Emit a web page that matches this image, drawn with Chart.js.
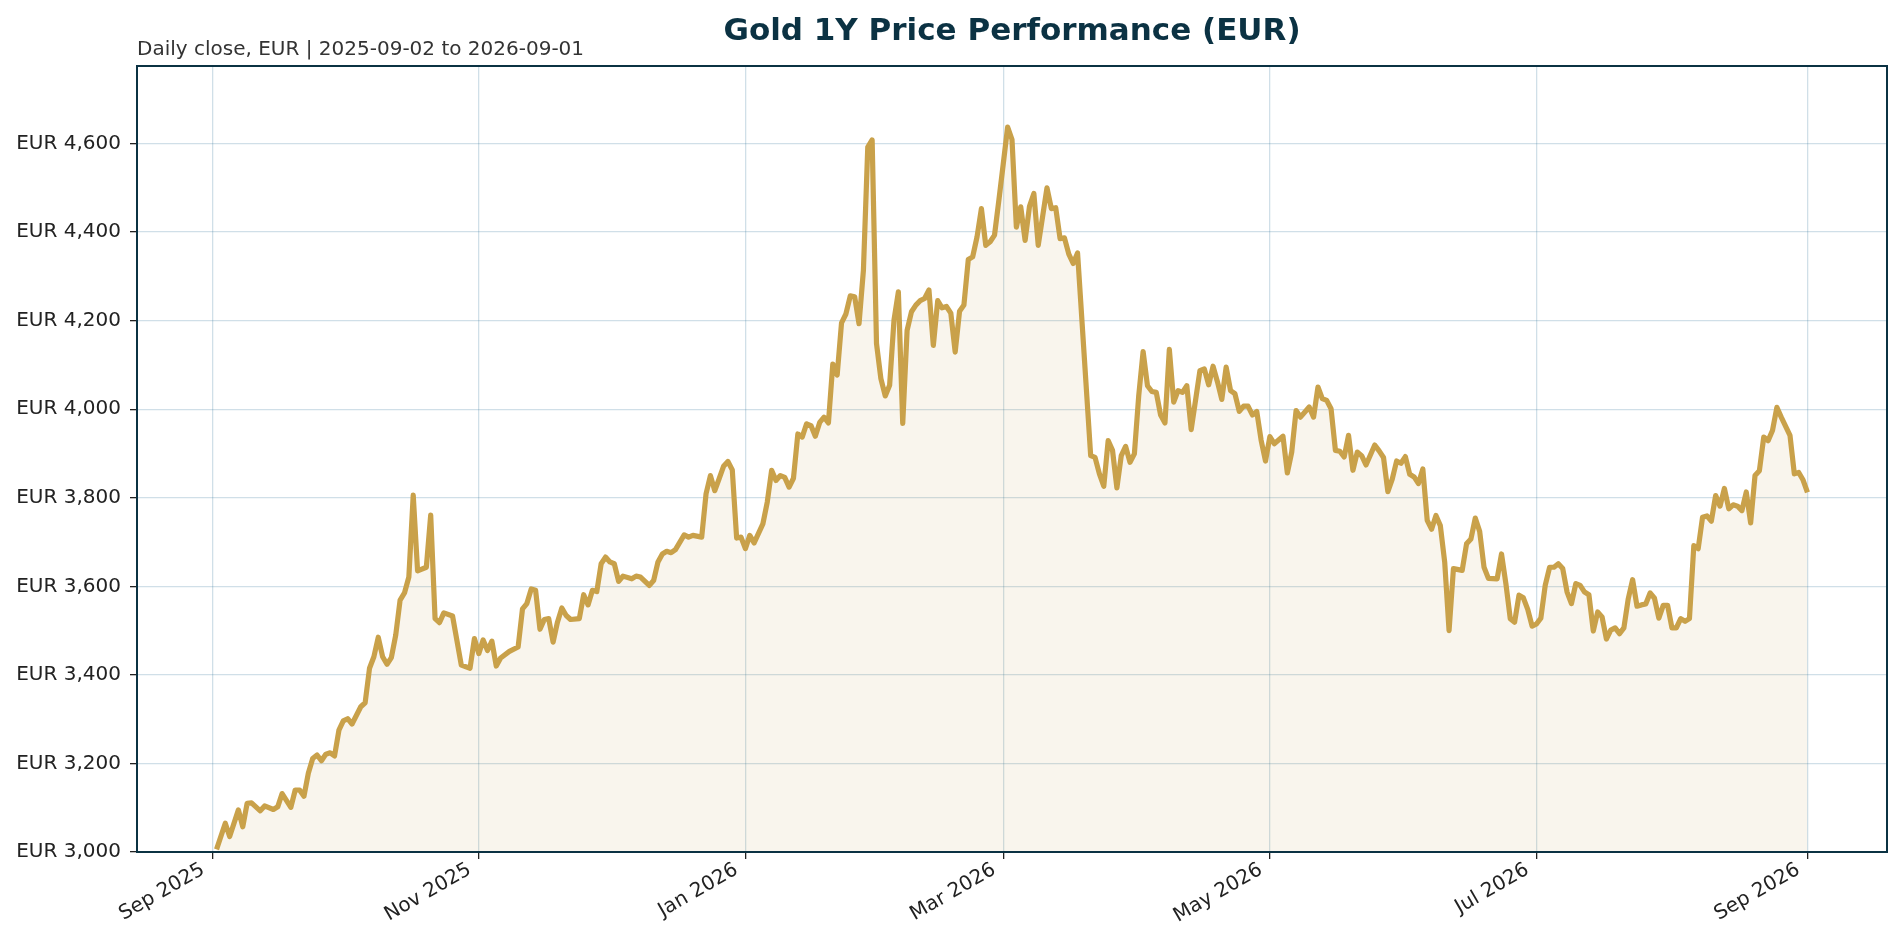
<!DOCTYPE html>
<html><head><meta charset="utf-8">
<script src="https://cdn.jsdelivr.net/npm/chart.js@4.4.1/dist/chart.umd.min.js"></script>
<style>html,body{margin:0;padding:0;background:#fff;}#wrap{width:1904px;height:944px;position:relative;}</style>
</head><body><div id="wrap"><canvas id="c"></canvas></div>
<script>
// Day offsets since 2025-09-01 and daily close (EUR)
const days = [
1,3,4,6,7,8,9,11,12,14,15,16,18,19,20,21,22,23,24,25,26,27,28,29,30,31,32,34,35,36,37,38,39,40,41,42,43,44,45,46,47,49,50,51,52,53,55,57,59,60,
61,62,63,64,65,66,68,70,71,72,73,74,75,76,77,78,79,80,81,82,84,85,86,87,88,89,90,91,92,93,94,96,97,98,100,101,102,103,104,105,106,108,109,110,112,113,114,115,116,117,118,119,120,
121,122,123,124,126,127,128,129,130,131,132,133,134,135,136,137,138,139,140,141,142,143,144,145,146,147,148,149,150,151,152,153,154,155,156,157,158,
159,160,161,162,163,164,165,166,167,168,169,170,171,172,173,174,175,176,177,178,179,180,181,182,183,184,185,186,187,188,189,191,192,193,194,195,196,197,198,
201,202,203,204,205,206,207,208,209,210,211,212,213,214,215,216,217,218,219,220,221,222,223,224,226,227,228,229,230,231,232,233,234,235,236,237,238,239,240,241,242,243,245,
246,247,248,249,251,252,253,254,255,256,257,258,259,260,261,262,263,264,266,267,268,269,270,271,272,273,274,275,276,277,278,279,280,281,
282,283,284,286,287,288,289,290,291,292,294,295,296,297,298,299,300,301,302,303,304,305,306,307,308,309,310,311,312,313,314,315,316,317,318,319,320,321,322,323,
324,325,326,327,328,329,330,331,332,333,334,335,336,337,338,339,340,341,342,343,344,345,346,347,348,349,350,351,352,353,354,355,356,357,358,359,361,362,363,364,365
];
const closes = [
3006,3065,3035,3095,3057,3110,3111,3093,3104,3096,3102,3132,3101,3140,3140,3126,3178,3211,3219,3206,3221,3224,3217,3275,3296,3301,3289,3328,3337,3415,3441,3485,3441,3424,3439,3490,3569,3585,3621,3806,3635,3643,3761,3527,3518,3540,3533,3422,3415,3482,
3448,3479,3455,3476,3420,3438,3453,3463,3549,3561,3594,3591,3503,3525,3527,3474,3519,3551,3534,3525,3527,3581,3558,3591,3588,3651,3666,3655,3651,3611,3623,3617,3623,3621,3602,3613,3655,3673,3679,3676,3683,3716,3711,3715,3711,3809,3850,3816,3843,3871,3882,3863,3709,
3711,3685,3715,3698,3741,3790,3862,3839,3850,3846,3824,3844,3944,3937,3967,3963,3939,3970,3982,3969,4102,4077,4195,4215,4256,4254,4193,4313,4592,4608,4148,4069,4030,4054,4201,4265,3968,
4178,4220,4235,4245,4250,4269,4144,4245,4229,4232,4217,4129,4221,4235,4338,4344,4389,4453,4370,4378,4393,4472,4554,4637,4609,4411,4457,4381,4458,4487,4370,4500,4453,4455,4385,4387,4350,4329,4353,
3895,3891,3854,3826,3929,3907,3822,3895,3916,3880,3899,4031,4130,4053,4040,4038,3987,3969,4135,4016,4042,4038,4053,3954,4087,4091,4055,4097,4062,4022,4095,4042,4035,3995,4007,4007,3987,3995,3930,3883,3938,3922,3939,
3856,3903,3997,3982,4005,3982,4050,4024,4020,4001,3907,3905,3892,3941,3862,3903,3895,3874,3919,3906,3891,3814,3842,3883,3878,3893,3853,3847,3832,3865,3749,3729,3760,3737,
3655,3500,3640,3636,3696,3707,3754,3724,3643,3618,3617,3673,3606,3527,3519,3580,3574,3548,3510,3515,3528,3602,3643,3643,3651,3640,3587,3561,3606,3602,3587,3581,3499,3542,3531,3481,3501,3506,3493,3506,
3572,3615,3555,3558,3560,3585,3573,3528,3557,3557,3506,3506,3527,3521,3527,3692,3685,3756,3759,3747,3805,3781,3821,3775,3784,3781,3771,3813,3743,3850,3861,3937,3929,3952,4004,3982,3941,3854,3857,3840,3812
];
const tickDays = [0, 61, 122, 181, 242, 303, 365];
const tickLabels = ['Sep 2025', 'Nov 2025', 'Jan 2026', 'Mar 2026', 'May 2026', 'Jul 2026', 'Sep 2026'];
const yTicks = [3000, 3200, 3400, 3600, 3800, 4000, 4200, 4400, 4600];
const titleText = 'Gold 1Y Price Performance (EUR)';
const subtitleText = 'Daily close, EUR | 2025-09-02 to 2026-09-01';

const FONT = "'DejaVu Sans', 'Noto Sans', sans-serif";
const NAVY = '#0b3243';
const GRID = 'rgba(40,110,150,0.22)';

const points = days.map((d, i) => ({ x: d, y: closes[i] }));

const decor = {
  id: 'decor',
  beforeDraw(chart) {
    const ctx = chart.ctx;
    ctx.save();
    ctx.fillStyle = '#ffffff';
    ctx.fillRect(0, 0, chart.width, chart.height);
    ctx.restore();
  },
  afterDraw(chart) {
    const { ctx, chartArea: a } = chart;
    ctx.save();
    ctx.strokeStyle = NAVY;
    ctx.lineWidth = 2;
    ctx.strokeRect(a.left, a.top, a.right - a.left, a.bottom - a.top);
    ctx.fillStyle = NAVY;
    ctx.font = 'bold 31px ' + FONT;
    ctx.textAlign = 'center';
    ctx.textBaseline = 'alphabetic';
    ctx.fillText(titleText, (a.left + a.right) / 2, 40);
    ctx.fillStyle = '#333333';
    ctx.font = '20px ' + FONT;
    ctx.textAlign = 'left';
    ctx.fillText(subtitleText, a.left, 55);
    ctx.restore();
  }
};

new Chart(document.getElementById('c'), {
  type: 'line',
  data: {
    datasets: [{
      data: points,
      borderColor: '#c9a14a',
      borderWidth: 5.2,
      backgroundColor: 'rgba(201,161,74,0.10)',
      fill: 'start',
      pointRadius: 0,
      tension: 0,
      borderJoinStyle: 'round'
    }]
  },
  options: {
    responsive: true,
    maintainAspectRatio: false,
    animation: false,
    layout: { padding: { top: 66, right: 17, left: 0, bottom: 0 } },
    plugins: { legend: { display: false }, tooltip: { enabled: false }, title: { display: false } },
    scales: {
      x: {
        type: 'linear',
        min: -17.2,
        max: 383.2,
        afterBuildTicks: (ax) => { ax.ticks = tickDays.map(v => ({ value: v })); },
        afterFit: (s) => { s.height = 92; },
        ticks: {
          autoSkip: false,
          minRotation: 30,
          maxRotation: 30,
          padding: -1,
          labelOffset: -9,
          color: '#222222',
          font: { family: FONT, size: 20 },
          callback: (v) => tickLabels[tickDays.indexOf(v)]
        },
        grid: { color: GRID, lineWidth: 1.3, tickLength: 7, tickColor: '#222222', tickWidth: 1.3 },
        border: { display: false }
      },
      y: {
        min: 3000,
        max: 4775,
        afterBuildTicks: (ax) => { ax.ticks = yTicks.map(v => ({ value: v })); },
        afterFit: (s) => { s.width = 137; },
        ticks: {
          padding: 9,
          color: '#222222',
          font: { family: FONT, size: 20 },
          callback: (v) => 'EUR ' + Number(v).toLocaleString('en-US')
        },
        grid: { color: GRID, lineWidth: 1.3, tickLength: 7, tickColor: '#222222', tickWidth: 1.3 },
        border: { display: false }
      }
    }
  },
  plugins: [decor]
});
</script>
</body></html>
